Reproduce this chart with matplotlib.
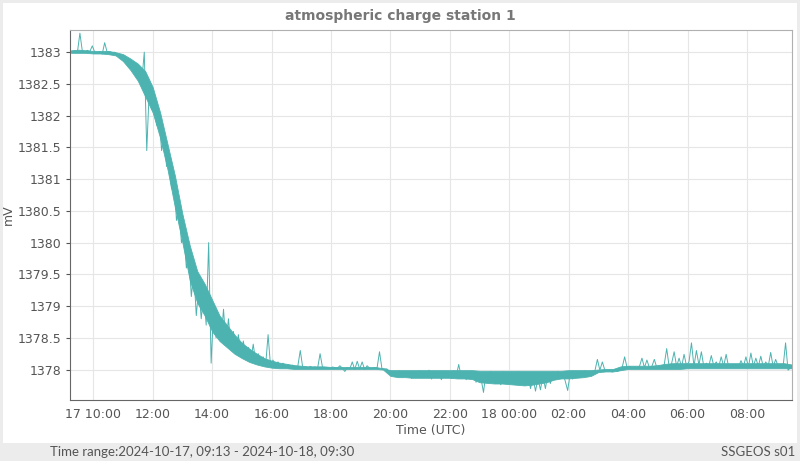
import pandas as pd
import matplotlib
matplotlib.use("Agg")
import matplotlib.pyplot as plt
import matplotlib.dates as mdates
from matplotlib.ticker import FuncFormatter, MultipleLocator

# 5-minute samples, starting 2024-10-17 09:13 UTC
start = "2024-10-17 09:13"
mv = [
    # 09:13
    1383.01, 1383.00, 1383.02, 1383.00, 1383.30, 1383.01, 1383.00, 1383.03, 1383.01, 1383.10, 1383.00, 1382.98,
    # 10:13
    1383.01, 1382.97, 1383.15, 1383.00, 1383.01, 1382.99, 1383.00, 1382.97, 1382.95, 1382.90, 1382.93, 1382.84,
    # 11:13
    1382.86, 1382.74, 1382.80, 1382.62, 1382.72, 1382.55, 1383.00, 1381.45, 1382.40, 1382.10, 1382.30, 1381.85,
    # 12:13
    1381.95, 1381.45, 1381.75, 1381.20, 1381.35, 1380.85, 1381.00, 1380.35, 1380.55, 1380.00, 1380.15, 1379.60,
    # 13:13
    1379.80, 1379.15, 1379.55, 1378.85, 1379.30, 1378.80, 1379.20, 1378.70, 1380.00, 1378.10, 1378.95, 1378.50,
    # 14:13
    1378.85, 1378.45, 1378.95, 1378.40, 1378.80, 1378.35, 1378.60, 1378.28, 1378.55, 1378.22, 1378.45, 1378.20,
    # 15:13
    1378.35, 1378.14, 1378.40, 1378.12, 1378.25, 1378.08, 1378.20, 1378.06, 1378.55, 1378.05, 1378.15, 1378.04,
    # 16:13
    1378.12, 1378.03, 1378.10, 1378.03, 1378.08, 1378.02, 1378.07, 1378.02, 1378.05, 1378.30, 1378.03, 1378.04,
    # 17:13
    1378.02, 1378.05, 1378.03, 1378.04, 1378.02, 1378.25, 1378.03, 1378.02, 1378.03, 1378.02, 1378.04, 1378.03,
    # 18:13
    1378.02, 1378.06, 1378.02, 1377.97, 1378.03, 1378.01, 1378.12, 1378.00, 1378.13, 1378.01, 1378.12, 1378.00,
    # 19:13
    1378.06, 1378.02, 1378.01, 1378.03, 1378.02, 1378.28, 1378.01, 1378.01, 1378.01, 1377.95, 1377.90, 1377.97,
    # 20:13
    1377.93, 1377.98, 1377.88, 1377.97, 1377.92, 1377.97, 1377.86, 1377.96, 1377.90, 1377.98, 1377.87, 1377.96,
    # 21:13
    1377.91, 1377.99, 1377.85, 1377.97, 1377.90, 1377.95, 1377.84, 1377.97, 1377.89, 1377.96, 1377.86, 1377.98,
    # 22:13
    1377.90, 1378.08, 1377.88, 1377.96, 1377.84, 1377.97, 1377.87, 1377.95, 1377.80, 1377.96, 1377.86, 1377.64,
    # 23:13
    1377.95, 1377.82, 1377.97, 1377.80, 1377.93, 1377.84, 1377.76, 1377.96, 1377.82, 1377.94, 1377.78, 1377.95,
    # 00:13
    1377.83, 1377.96, 1377.78, 1377.92, 1377.75, 1377.90, 1377.70, 1377.88, 1377.66, 1377.86, 1377.68, 1377.90,
    # 01:13
    1377.70, 1377.93, 1377.78, 1377.96, 1377.84, 1377.97, 1377.86, 1377.95, 1377.82, 1377.67, 1377.94, 1377.85,
    # 02:13
    1377.97, 1377.88, 1377.96, 1377.90, 1377.98, 1377.91, 1377.97, 1377.93, 1377.98, 1378.16, 1377.99, 1378.12,
    # 03:13
    1377.99, 1377.98, 1377.99, 1377.96, 1378.00, 1377.97, 1377.99, 1378.03, 1378.20, 1378.03, 1378.05, 1378.03,
    # 04:13
    1378.04, 1378.03, 1378.05, 1378.18, 1378.03, 1378.15, 1378.03, 1378.05, 1378.16, 1378.03, 1378.06, 1378.03,
    # 05:13
    1378.08, 1378.33, 1378.04, 1378.10, 1378.28, 1378.05, 1378.18, 1378.04, 1378.24, 1378.06, 1378.12, 1378.42,
    # 06:13
    1378.05, 1378.30, 1378.07, 1378.28, 1378.04, 1378.10, 1378.05, 1378.22, 1378.06, 1378.12, 1378.04, 1378.20,
    # 07:13
    1378.05, 1378.24, 1378.04, 1378.08, 1378.04, 1378.06, 1378.04, 1378.14, 1378.05, 1378.20, 1378.04, 1378.26,
    # 08:13
    1378.05, 1378.18, 1378.05, 1378.21, 1378.04, 1378.12, 1378.05, 1378.27, 1378.04, 1378.16, 1378.05, 1378.08,
    # 09:13
    1378.04, 1378.42, 1377.99, 1378.03,
]
times = pd.date_range(start, periods=len(mv), freq="5min")

# dense noise band (lower / upper edge), 15-minute steps from 09:15
band_start = "2024-10-17 09:15"
band_lo = [
    1382.99, 1382.99, 1382.99,
    1382.98, 1382.98, 1382.97, 1382.95,
    1382.86, 1382.72, 1382.55, 1382.30,
    1382.05, 1381.65, 1381.15, 1380.55,
    1380.00, 1379.40, 1379.05, 1378.85,
    1378.60, 1378.45, 1378.35, 1378.25,
    1378.18, 1378.12, 1378.08, 1378.05,
    1378.03, 1378.02, 1378.02, 1378.01,
    1378.01, 1378.01, 1378.01, 1378.01,
    1378.01, 1378.01, 1378.01, 1378.01,
    1378.01, 1378.01, 1378.01, 1378.00,
    1377.90, 1377.88, 1377.88, 1377.87,
    1377.87, 1377.87, 1377.87, 1377.87,
    1377.87, 1377.86, 1377.86, 1377.85,
    1377.80, 1377.79, 1377.78, 1377.78,
    1377.77, 1377.76, 1377.75, 1377.76,
    1377.78, 1377.80, 1377.84, 1377.86,
    1377.86, 1377.87, 1377.88, 1377.90,
    1377.96, 1377.97, 1377.97, 1377.99,
    1378.01, 1378.01, 1378.01, 1378.01,
    1378.01, 1378.01, 1378.01, 1378.01,
    1378.02, 1378.02, 1378.02, 1378.02,
    1378.02, 1378.02, 1378.02, 1378.02,
    1378.02, 1378.02, 1378.02, 1378.02,
    1378.02, 1378.02, 1378.02,
]
band_hi = [
    1383.03, 1383.04, 1383.03,
    1383.02, 1383.02, 1383.02, 1383.00,
    1382.97, 1382.90, 1382.82, 1382.70,
    1382.45, 1382.05, 1381.55, 1381.05,
    1380.45, 1379.95, 1379.55, 1379.35,
    1379.10, 1378.85, 1378.70, 1378.55,
    1378.42, 1378.33, 1378.25, 1378.18,
    1378.14, 1378.11, 1378.09, 1378.07,
    1378.06, 1378.05, 1378.05, 1378.05,
    1378.04, 1378.04, 1378.04, 1378.04,
    1378.04, 1378.04, 1378.04, 1378.02,
    1377.99, 1377.99, 1377.99, 1377.99,
    1377.99, 1377.99, 1377.99, 1377.99,
    1377.99, 1377.99, 1377.99, 1377.99,
    1377.98, 1377.98, 1377.98, 1377.98,
    1377.98, 1377.98, 1377.98, 1377.98,
    1377.98, 1377.98, 1377.98, 1377.98,
    1377.99, 1377.99, 1377.99, 1377.99,
    1378.00, 1378.01, 1378.01, 1378.05,
    1378.06, 1378.06, 1378.06, 1378.06,
    1378.07, 1378.09, 1378.10, 1378.10,
    1378.10, 1378.10, 1378.10, 1378.10,
    1378.10, 1378.10, 1378.10, 1378.10,
    1378.10, 1378.10, 1378.10, 1378.10,
    1378.10, 1378.10, 1378.08,
]
band_times = pd.date_range(band_start, periods=len(band_lo), freq="15min")

x_start = pd.Timestamp("2024-10-17 09:13")
x_end = pd.Timestamp("2024-10-18 09:31")
y_min, y_max = 1377.52, 1383.35

title = "atmospheric charge station 1"
time_range = "Time range:2024-10-17, 09:13 - 2024-10-18, 09:30"
station = "SSGEOS s01"

line_color = "#4db3b0"
text_color = "#555555"

fig = plt.figure(figsize=(8, 4.61), dpi=100, facecolor="#ececec")
# white panel behind the chart
panel = plt.Rectangle((3 / 800, 18 / 461), 794 / 800, 440 / 461,
                      transform=fig.transFigure, facecolor="white",
                      edgecolor="none", zorder=-10)
fig.patches.append(panel)

ax = fig.add_axes([70 / 800, 61 / 461, 722 / 800, 370 / 461])
ax.set_facecolor("white")
ax.fill_between(band_times, band_lo, band_hi, color=line_color, linewidth=0.6)
ax.plot(times, mv, color=line_color, linewidth=0.7)

ax.set_xlim(x_start, x_end)
ax.set_ylim(y_min, y_max)
ax.yaxis.set_major_locator(MultipleLocator(0.5))
ax.yaxis.set_major_formatter(FuncFormatter(lambda v, p: f"{v:g}"))

ax.xaxis.set_major_locator(mdates.HourLocator(byhour=range(0, 24, 2)))


def fmt_time(v, pos):
    d = mdates.num2date(v)
    if pos == 0 or d.hour == 0:
        return d.strftime("%d %H:%M")
    return d.strftime("%H:%M")


ax.xaxis.set_major_formatter(FuncFormatter(fmt_time))

ax.grid(True, color="#e6e6e6", linewidth=0.8)
ax.set_axisbelow(True)
for side in ["top", "right"]:
    ax.spines[side].set_color("#b0b0b0")
for side in ["left", "bottom"]:
    ax.spines[side].set_color("#666666")
ax.tick_params(axis="both", colors=text_color, labelsize=9, length=3)
ax.tick_params(axis="x", length=0, pad=6)

ax.set_xlabel("Time (UTC)", color=text_color, fontsize=9, labelpad=2)
ax.set_ylabel("mV", color=text_color, fontsize=9, labelpad=2)

fig.text(0.5, 1 - 16 / 461, title, ha="center", va="center",
         fontsize=10, fontweight="bold", color="#777777")
fig.text(50 / 800, 9 / 461, time_range, ha="left", va="center",
         fontsize=9.5, color=text_color, family="Lato")
fig.text(795 / 800, 9 / 461, station, ha="right", va="center",
         fontsize=9.5, color=text_color, family="Lato")

fig.savefig("out.png", dpi=100, facecolor=fig.get_facecolor())
